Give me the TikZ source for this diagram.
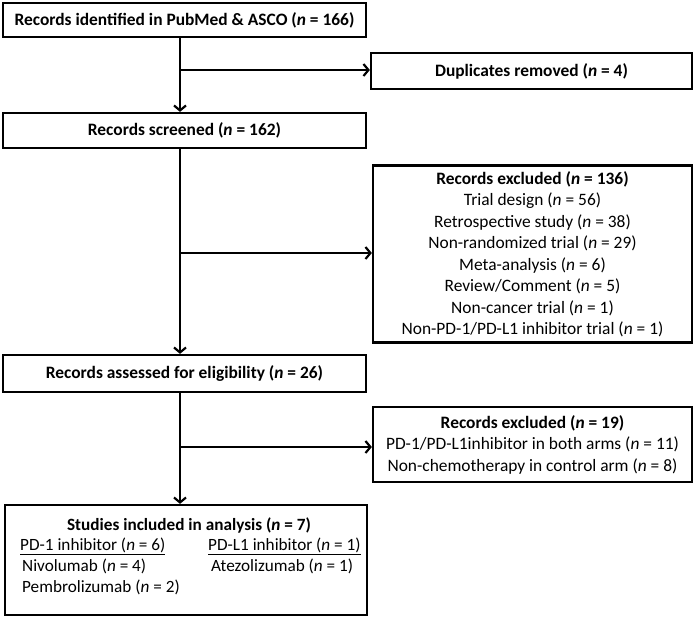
\documentclass[tikz,border=0pt]{standalone}
\usepackage{fontspec}
\setmainfont{Carlito}
\usetikzlibrary{arrows.meta}

\tikzset{
    box/.style={draw, line width=2.2pt, inner sep=0pt, align=center, font=\fontsize{17.4}{21.5}\selectfont},
    txt/.style={inner sep=0pt, font=\fontsize{17.2}{21.5}\selectfont},
    flow/.style={line width=2.2pt, -{Straight Barb[length=5pt,width=12pt]}}
}

\begin{document}
\begin{tikzpicture}[x=1pt,y=-1pt]
        \useasboundingbox (0,0) rectangle (697,619);

        % main column
        \node[box, minimum width=363pt, minimum height=34pt] (found) at (184.5,20) {\textbf{Records identified in PubMed \& ASCO (\textit{n} = 166)}};
        \node[box, minimum width=363pt, minimum height=35pt] (screened) at (184.5,130.5) {\textbf{Records screened (\textit{n} = 162)}};
        \node[box, minimum width=363pt, minimum height=37pt] (assessed) at (184.5,373.5) {\textbf{Records assessed for eligibility (\textit{n} = 26)}};
        \node[box, minimum width=362pt, minimum height=110pt] (incl) at (186,560) {};

        \node[txt] (incltitle) at (189,525) {\textbf{Studies included in analysis (\textit{n} = 7)}};
        \node[txt, anchor=mid west] (pdone) at (20,548) {\underline{PD-1 inhibitor (\textit{n} = 6)}};
        \node[txt, anchor=mid west] (pdlone) at (208,548) {\underline{PD-L1 inhibitor (\textit{n} = 1)}};
        \node[txt, anchor=mid west] (nivo) at (22,569) {Nivolumab (\textit{n} = 4)};
        \node[txt, anchor=mid west] (pembro) at (22,590) {Pembrolizumab (\textit{n} = 2)};
        \node[txt, anchor=mid west] (atezo) at (211,569) {Atezolizumab (\textit{n} = 1)};

        % side boxes
        \node[box, minimum width=321pt, minimum height=36pt] (dup) at (531.5,71) {\textbf{Duplicates removed (\textit{n} = 4)}};
        \node[box, minimum width=319pt, minimum height=177pt] (exclone) at (532.5,254) {\textbf{Records excluded (\textit{n} = 136)}\\
            Trial design (\textit{n} = 56)\\
            Retrospective study (\textit{n} = 38)\\
            Non-randomized trial (\textit{n} = 29)\\
            Meta-analysis (\textit{n} = 6)\\
            Review/Comment (\textit{n} = 5)\\
            Non-cancer trial (\textit{n} = 1)\\
            Non-PD-1/PD-L1 inhibitor trial (\textit{n} = 1)};
        \node[box, minimum width=319pt, minimum height=75pt] (excltwo) at (532.5,444.5) {\textbf{Records excluded (\textit{n} = 19)}\\
            PD-1/PD-L1inhibitor in both arms (\textit{n} = 11)\\
            Non-chemotherapy in control arm (\textit{n} = 8)};

        % arrows
        \coordinate (forkone) at (180,70);
        \coordinate (forktwo) at (180,253);
        \coordinate (forkthree) at (180,447);
        \draw[flow] (found.south -| forkone) -- (screened.north -| forkone);
        \draw[flow] (forkone) -- (dup.west |- forkone);
        \draw[flow] (screened.south -| forktwo) -- (assessed.north -| forktwo);
        \draw[flow] (forktwo) -- (exclone.west |- forktwo);
        \draw[flow] (assessed.south -| forkthree) -- (incl.north -| forkthree);
        \draw[flow] (forkthree) -- (excltwo.west |- forkthree);
    \end{tikzpicture}
\end{document}
